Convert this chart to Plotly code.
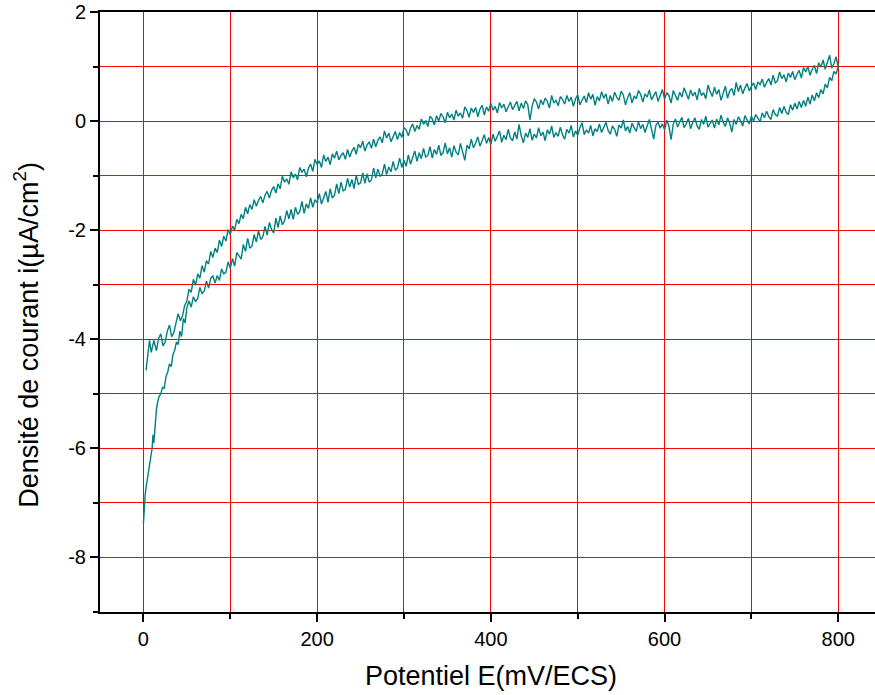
import plotly.graph_objects as go

# Potential grid of the sweep above 50 mV/ECS (step 2.5 mV)
e_grid = [
    50, 52.5, 55, 57.5, 60, 62.5, 65, 67.5, 70, 72.5,
    75, 77.5, 80, 82.5, 85, 87.5, 90, 92.5, 95, 97.5,
    100, 102.5, 105, 107.5, 110, 112.5, 115, 117.5, 120, 122.5,
    125, 127.5, 130, 132.5, 135, 137.5, 140, 142.5, 145, 147.5,
    150, 152.5, 155, 157.5, 160, 162.5, 165, 167.5, 170, 172.5,
    175, 177.5, 180, 182.5, 185, 187.5, 190, 192.5, 195, 197.5,
    200, 202.5, 205, 207.5, 210, 212.5, 215, 217.5, 220, 222.5,
    225, 227.5, 230, 232.5, 235, 237.5, 240, 242.5, 245, 247.5,
    250, 252.5, 255, 257.5, 260, 262.5, 265, 267.5, 270, 272.5,
    275, 277.5, 280, 282.5, 285, 287.5, 290, 292.5, 295, 297.5,
    300, 302.5, 305, 307.5, 310, 312.5, 315, 317.5, 320, 322.5,
    325, 327.5, 330, 332.5, 335, 337.5, 340, 342.5, 345, 347.5,
    350, 352.5, 355, 357.5, 360, 362.5, 365, 367.5, 370, 372.5,
    375, 377.5, 380, 382.5, 385, 387.5, 390, 392.5, 395, 397.5,
    400, 402.5, 405, 407.5, 410, 412.5, 415, 417.5, 420, 422.5,
    425, 427.5, 430, 432.5, 435, 437.5, 440, 442.5, 445, 447.5,
    450, 452.5, 455, 457.5, 460, 462.5, 465, 467.5, 470, 472.5,
    475, 477.5, 480, 482.5, 485, 487.5, 490, 492.5, 495, 497.5,
    500, 502.5, 505, 507.5, 510, 512.5, 515, 517.5, 520, 522.5,
    525, 527.5, 530, 532.5, 535, 537.5, 540, 542.5, 545, 547.5,
    550, 552.5, 555, 557.5, 560, 562.5, 565, 567.5, 570, 572.5,
    575, 577.5, 580, 582.5, 585, 587.5, 590, 592.5, 595, 597.5,
    600, 602.5, 605, 607.5, 610, 612.5, 615, 617.5, 620, 622.5,
    625, 627.5, 630, 632.5, 635, 637.5, 640, 642.5, 645, 647.5,
    650, 652.5, 655, 657.5, 660, 662.5, 665, 667.5, 670, 672.5,
    675, 677.5, 680, 682.5, 685, 687.5, 690, 692.5, 695, 697.5,
    700, 702.5, 705, 707.5, 710, 712.5, 715, 717.5, 720, 722.5,
    725, 727.5, 730, 732.5, 735, 737.5, 740, 742.5, 745, 747.5,
    750, 752.5, 755, 757.5, 760, 762.5, 765, 767.5, 770, 772.5,
    775, 777.5, 780, 782.5, 785, 787.5, 790, 792.5, 795, 797.5,
    800,
]

# Anodic sweep: start of the scan (0 -> 48 mV)
e_start = [0, 1, 2, 3, 4, 5, 6, 7, 8, 9, 10, 11, 12, 13, 14, 15, 16, 18, 20, 22,
           24, 26, 28, 30, 32, 34, 36, 38, 40, 42, 44, 46, 48]
i_start = [-7.38, -7.05, -6.85, -6.72, -6.60, -6.48, -6.38, -6.30, -6.20, -6.10,
           -6.00, -5.75, -5.90, -5.70, -5.35, -5.28, -5.18, -5.05, -5.00, -4.88,
           -4.90, -4.68, -4.60, -4.45, -4.50, -4.28, -4.20, -4.05, -4.10, -3.85,
           -3.95, -3.62, -3.70]

# Anodic sweep on e_grid (50 -> 800 mV), current in µA/cm²
i_up = [
    -3.42, -3.30, -3.41, -3.22, -3.31, -3.25, -3.05, -3.16, -3.12, -2.93,
    -3.06, -2.88, -2.84, -2.97, -2.83, -2.92, -2.71, -2.80, -2.77, -2.58,
    -2.70,
    -2.52, -2.66, -2.41, -2.47, -2.53, -2.26, -2.39, -2.15, -2.33, -2.29,
    -2.08, -2.22, -2.01, -2.17, -2.12, -1.93, -2.09, -1.86, -1.99, -2.05,
    -1.78, -1.95, -1.74, -1.90, -1.83, -1.64, -1.79, -1.62, -1.80, -1.58,
    -1.71, -1.66, -1.47, -1.69, -1.52, -1.60, -1.41, -1.58, -1.44, -1.50,
    -1.33, -1.52, -1.38, -1.29, -1.49, -1.24, -1.41, -1.36, -1.15, -1.33,
    -1.12, -1.28, -1.25, -1.05, -1.21, -1.07, -1.24, -0.99, -1.16, -1.13,
    -0.95, -1.14, -0.97, -1.12, -1.08, -0.86, -1.04, -0.88, -1.01, -0.97,
    -0.79, -0.98, -0.84, -0.93, -0.74, -0.90, -0.86, -0.68, -0.85, -0.72,
    -0.83, -0.62, -0.79, -0.66, -0.55, -0.74, -0.58, -0.69, -0.50, -0.66,
    -0.63, -0.47, -0.68, -0.52, -0.61, -0.44, -0.63, -0.58, -0.40, -0.60,
    -0.49, -0.66, -0.45, -0.57, -0.62, -0.41, -0.55, -0.72, -0.44, -0.51,
    -0.33, -0.49, -0.40, -0.29, -0.46, -0.35, -0.25, -0.41, -0.30, -0.43,
    -0.24, -0.37, -0.28, -0.18, -0.39, -0.26, -0.34, -0.15, -0.31, -0.36,
    -0.20, -0.33, -0.06, -0.27, -0.40, -0.22, -0.30, -0.14, -0.35, -0.24,
    -0.31, -0.12, -0.27, -0.20, -0.36, -0.16, -0.24, -0.09, -0.30, -0.21,
    -0.28, -0.11, -0.25, -0.33, -0.15, -0.22, -0.08, -0.29, -0.18, -0.26,
    -0.12, -0.03, -0.25, -0.16, -0.22, -0.08, -0.27, -0.14, -0.19, -0.05,
    -0.21, -0.11, -0.02, -0.17, -0.24, -0.09, -0.15, -0.28, -0.07, -0.13,
    0.02, -0.18, -0.10, -0.22, -0.04, -0.12, -0.19, -0.01, -0.14, -0.06,
    -0.21, -0.09, 0.03, -0.15, -0.33, -0.08, -0.02, -0.13, -0.05, -0.16,
    0.02, -0.09, -0.34, -0.06, 0.04, -0.11, -0.03, 0.07, -0.12, -0.05,
    0.05, -0.14, -0.02, 0.06, -0.09, -0.15, 0.03, -0.06, 0.09, -0.11,
    -0.04, 0.02, -0.13, 0.04, -0.07, 0.11, -0.02, -0.10, 0.06, -0.04,
    -0.20, 0.03, -0.06, 0.08, 0.01, -0.09, 0.10, 0.02, -0.05, 0.09,
    0.00, 0.12, 0.04, -0.01, 0.15, 0.06, 0.18, 0.08, 0.03, 0.21,
    0.12, 0.09, 0.25, 0.14, 0.27, 0.16, 0.12, 0.30, 0.20, 0.33,
    0.22, 0.36, 0.25, 0.38, 0.27, 0.44, 0.31, 0.48, 0.37, 0.52,
    0.43, 0.58, 0.50, 0.68, 0.61, 0.80, 0.74, 0.91, 0.86, 0.98,
]

# Cathodic return sweep on e_grid, listed from 800 back down to 50 mV
i_down = [
    1.00, 1.18, 1.05, 0.97, 1.21, 1.08, 0.95, 1.12, 0.99, 1.07,
    0.87, 1.02, 0.95, 0.84, 1.00, 0.90, 0.98, 0.79, 0.93, 0.86,
    0.76, 0.91, 0.80, 0.88, 0.72, 0.85, 0.78, 0.90, 0.74, 0.70,
    0.84, 0.66, 0.78, 0.71, 0.62, 0.77, 0.67, 0.72, 0.58, 0.70,
    0.64, 0.55, 0.69, 0.61, 0.50, 0.66, 0.54, 0.71, 0.47, 0.60,
    0.55, 0.42, 0.64, 0.51, 0.38, 0.58, 0.49, 0.62, 0.45, 0.54,
    0.66, 0.41, 0.52, 0.47, 0.60, 0.39, 0.53, 0.46, 0.57, 0.40,
    0.50, 0.61, 0.44, 0.53, 0.38, 0.49, 0.56, 0.33, 0.47, 0.52,
    0.40, 0.58, 0.45, 0.36, 0.54, 0.47, 0.39, 0.57, 0.44, 0.50,
    0.35, 0.49, 0.56, 0.41, 0.46, 0.33, 0.52, 0.43, 0.30, 0.48,
    0.55, 0.38, 0.44, 0.53, 0.36, 0.47, 0.31, 0.50, 0.42, 0.54,
    0.37, 0.45, 0.29, 0.49, 0.40, 0.52, 0.34, 0.46, 0.38, 0.30,
    0.48, 0.41, 0.27, 0.44, 0.36, 0.47, 0.31, 0.40, 0.45, 0.28,
    0.38, 0.33, 0.47, 0.24, 0.36, 0.42, 0.30, 0.39, 0.22, 0.35,
    0.41, 0.27, 0.02, 0.30, 0.37, 0.23, 0.33, 0.19, 0.36, 0.28,
    0.21, 0.35, 0.26, 0.17, 0.31, 0.24, 0.34, 0.15, 0.27, 0.20,
    0.33, 0.18, 0.26, 0.11, 0.29, 0.22, 0.08, 0.25, 0.16, 0.24,
    0.07, 0.19, 0.26, 0.05, 0.15, 0.09, 0.20, 0.02, 0.13, 0.06,
    0.16, -0.03, 0.08, 0.14, 0.00, 0.10, -0.07, 0.04, 0.09, -0.10,
    0.01, -0.06, 0.04, -0.15, -0.08, -0.19, -0.05, -0.13, -0.27, -0.16,
    -0.12, -0.30, -0.21, -0.34, -0.19, -0.27, -0.38, -0.22, -0.31, -0.18,
    -0.40, -0.29, -0.35, -0.47, -0.33, -0.50, -0.38, -0.44, -0.55, -0.37,
    -0.49, -0.42, -0.61, -0.48, -0.55, -0.66, -0.52, -0.70, -0.58, -0.63,
    -0.71, -0.55, -0.68, -0.60, -0.80, -0.66, -0.74, -0.62, -0.85, -0.73,
    -0.80, -0.70, -0.92, -0.79, -0.86, -1.02, -0.88, -0.94, -0.85, -1.08,
    -0.97, -1.04, -0.93, -1.16, -1.06, -1.12, -1.01, -1.24, -1.15, -1.32,
    -1.20, -1.27, -1.41, -1.29, -1.36, -1.50, -1.38, -1.45, -1.56, -1.44,
    -1.62, -1.53, -1.70, -1.58, -1.79, -1.71, -1.88, -1.80, -2.00, -1.92,
    -2.08, -1.99, -2.20, -2.11, -2.30, -2.18, -2.41, -2.33, -2.50, -2.39,
    -2.62, -2.56, -2.77, -2.65, -2.88, -2.80, -3.01, -2.90, -3.14, -3.08,
    -3.30,
]

# End of the return sweep (47.5 -> 3 mV)
e_end = [47.5, 45, 42.5, 40, 37.5, 35, 32.5, 30, 27.5, 25, 22.5, 20, 17.5, 15,
         12, 9, 7, 5, 3]
i_end = [-3.38, -3.57, -3.66, -3.53, -3.70, -3.88, -3.95, -3.74, -3.85, -4.05,
         -4.12, -3.90, -3.98, -4.21, -4.02, -4.24, -4.02, -4.35, -4.57]

x_major = [0, 200, 400, 600, 800]
x_labels = ["0", "200", "400", "600", "800"]
y_major = [-8, -6, -4, -2, 0, 2]
y_labels = ["-8", "-6", "-4", "-2", "0", "2"]

e_cycle = e_start + e_grid + e_grid[::-1] + e_end
i_cycle = i_start + i_up + i_down + i_end

fig = go.Figure()
fig.add_trace(go.Scatter(
    x=e_cycle, y=i_cycle, mode="lines",
    line=dict(color="#008080", width=1.4),
    showlegend=False,
))

font_family = "Liberation Sans, Arial, sans-serif"
axis_font = dict(family=font_family, size=20, color="black")
title_font = dict(family=font_family, size=27, color="black")

fig.update_layout(
    width=875, height=695,
    margin=dict(l=100, r=0, t=12, b=83),
    paper_bgcolor="white", plot_bgcolor="white",
    xaxis=dict(
        range=[-50, 842.3],
        tickvals=x_major, ticktext=x_labels,
        ticks="outside", ticklen=8, tickwidth=2, tickcolor="black",
        showline=True, linecolor="black", linewidth=2, mirror=True,
        showgrid=True, gridcolor="#ff0000", gridwidth=1,
        zeroline=False,
        tickfont=axis_font,
        minor=dict(dtick=100, tick0=0, ticks="outside", ticklen=5, tickwidth=2,
                   tickcolor="black", showgrid=True, gridcolor="#ff0000", gridwidth=1),
    ),
    yaxis=dict(
        range=[-9, 2],
        tickvals=y_major, ticktext=y_labels,
        ticks="outside", ticklen=8, tickwidth=2, tickcolor="black",
        showline=True, linecolor="black", linewidth=2, mirror=False,
        showgrid=True, gridcolor="#ff0000", gridwidth=1,
        zeroline=False,
        tickfont=axis_font,
        minor=dict(dtick=1, tick0=0, ticks="outside", ticklen=5, tickwidth=2,
                   tickcolor="black", showgrid=True, gridcolor="#ff0000", gridwidth=1),
    ),
    annotations=[
        dict(text="Potentiel E(mV/ECS)", font=title_font, showarrow=False,
             xref="paper", yref="paper", x=0.5045, y=-0.107,
             xanchor="center", yanchor="middle"),
        dict(text="Densité de courant i(µA/cm<sup>2</sup>)", font=title_font,
             showarrow=False, textangle=-90,
             xref="paper", yref="paper", x=-0.0955, y=0.462,
             xanchor="center", yanchor="middle"),
    ],
)

fig.write_html("out.html")
